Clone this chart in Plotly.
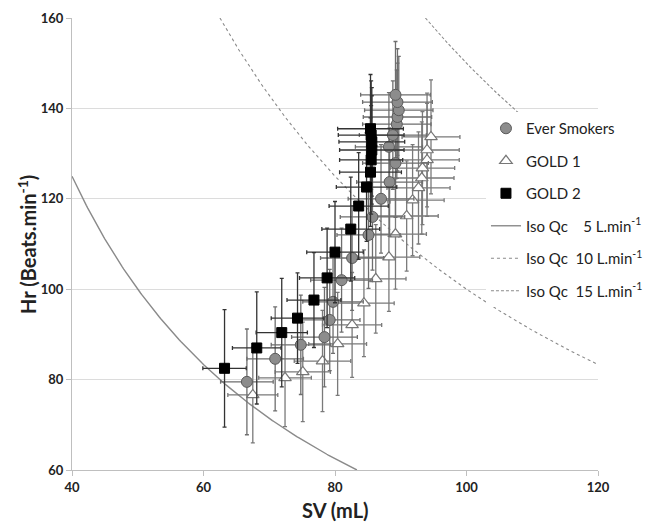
import numpy as np
import plotly.graph_objects as go

# ---- data ----
ever_sv = [66.6, 70.9, 74.8, 78.4, 79.2, 79.7, 81.0, 82.6, 85.1, 85.7, 87.0, 88.3, 89.2, 88.2, 88.8, 89.4, 89.5, 89.7, 89.5, 89.2]
ever_hr = [79.5, 84.6, 87.7, 89.4, 93.2, 97.2, 102.0, 106.9, 112.0, 116.0, 120.0, 123.7, 127.9, 131.5, 134.1, 136.5, 138.1, 139.6, 141.4, 143.0]
ever_sv_err = [4.0, 4.3, 4.5, 5.0, 4.6, 4.6, 4.7, 4.8, 4.8, 4.9, 5.0, 5.0, 5.0, 5.1, 5.1, 5.2, 5.2, 5.2, 5.3, 5.3]
ever_hr_err = [11.7, 11.5, 11.0, 11.0, 11.2, 11.4, 11.5, 11.6, 11.8, 11.8, 12.0, 12.0, 12.0, 12.0, 12.0, 12.0, 11.9, 11.9, 11.8, 11.8]

g1_sv = [67.5, 72.4, 75.1, 78.1, 80.4, 82.6, 84.4, 86.2, 88.2, 89.2, 90.9, 91.8, 92.7, 93.2, 93.3, 94.0, 94.0, 94.6]
g1_hr = [76.6, 80.4, 81.7, 84.1, 87.9, 92.1, 96.9, 102.3, 107.1, 112.2, 116.2, 119.7, 122.4, 124.6, 126.8, 128.6, 130.8, 133.7]
g1_sv_err = [3.8, 4.0, 4.2, 4.3, 4.4, 4.5, 4.6, 4.6, 4.7, 4.7, 4.8, 4.8, 4.8, 4.9, 4.9, 4.9, 4.9, 4.4]
g1_hr_err = [10.6, 10.8, 11.0, 11.2, 11.4, 11.6, 11.8, 12.0, 12.0, 12.2, 12.2, 12.3, 12.4, 12.4, 12.5, 12.5, 12.6, 12.6]

g2_sv = [63.2, 68.1, 71.9, 74.3, 76.8, 78.8, 80.0, 82.4, 83.6, 84.8, 85.4, 85.5, 85.6, 85.6, 85.5, 85.4]
g2_hr = [82.5, 87.0, 90.4, 93.6, 97.6, 102.5, 108.2, 113.3, 118.4, 122.6, 125.9, 128.6, 130.8, 132.6, 134.1, 135.5]
g2_sv_err = [3.3, 3.7, 3.9, 4.0, 4.1, 4.2, 4.3, 4.4, 4.5, 4.6, 4.7, 4.8, 4.9, 5.0, 5.0, 5.0]
g2_hr_err = [13.0, 12.4, 12.0, 10.0, 10.5, 11.0, 11.2, 11.5, 11.8, 12.0, 12.0, 12.0, 12.0, 12.0, 12.0, 12.0]

iso_q = [5, 10, 15]          # L/min
iso_sv_start = [40, 62.5, 93.75]
iso_sv_end = [83.33, 120, 120]
iso_dash = ["solid", "dot", "3px,2px"]
iso_width = [1.4, 1.1, 1.1]
iso_names = ["Iso Qc\u00a0\u00a0\u00a0\u00a05 L.min<sup>-1</sup>",
             "Iso Qc\u00a0\u00a010 L.min<sup>-1</sup>",
             "Iso Qc\u00a0\u00a015 L.min<sup>-1</sup>"]

x_title = "SV (mL)"
y_title = "Hr (Beats.min<sup>-1</sup>)"

FONT = "Lato, 'Open Sans', sans-serif"

fig = go.Figure()

# iso cardiac output lines (HR = Qc / SV)
for i, q in enumerate(iso_q):
    sv = np.linspace(iso_sv_start[i], iso_sv_end[i], 200)
    hr = q * 1000.0 / sv
    fig.add_trace(go.Scatter(
        x=sv, y=hr, mode="lines", name=iso_names[i],
        line=dict(color="#8a8a8a", width=iso_width[i], dash=iso_dash[i]),
        legendrank=4 + i, legendgroup="iso%d" % i, hoverinfo="skip"))

def err(arr, color):
    return dict(type="data", array=arr, visible=True, color=color, thickness=1.3, width=2)

fig.add_trace(go.Scatter(
    x=g1_sv, y=g1_hr, mode="markers", name="GOLD 1",
    marker=dict(symbol="triangle-up", size=11, color="white", line=dict(color="#777777", width=1.2)),
    error_x=err(g1_sv_err, "#7a7a7a"), error_y=err(g1_hr_err, "#7a7a7a"),
    legendrank=2, legendgroup="g1"))

fig.add_trace(go.Scatter(
    x=ever_sv, y=ever_hr, mode="markers", name="Ever Smokers",
    marker=dict(symbol="circle", size=11, color="#8c8c8c", line=dict(color="#5a5a5a", width=1)),
    error_x=err(ever_sv_err, "#6e6e6e"), error_y=err(ever_hr_err, "#6e6e6e"),
    legendrank=1, legendgroup="es"))

fig.add_trace(go.Scatter(
    x=g2_sv, y=g2_hr, mode="markers", name="GOLD 2",
    marker=dict(symbol="square", size=10, color="black", line=dict(color="black", width=1)),
    error_x=err(g2_sv_err, "#333333"), error_y=err(g2_hr_err, "#333333"),
    legendrank=3, legendgroup="g2"))

fig.update_layout(
    width=651, height=525,
    margin=dict(l=72, r=53, t=18, b=55, autoexpand=False),
    paper_bgcolor="white", plot_bgcolor="white",
    font=dict(family=FONT, color="#222222"),
    showlegend=True,
    legend=dict(x=0.787, y=0.792, xanchor="left", yanchor="top",
                bgcolor="white", borderwidth=0,
                font=dict(family=FONT, size=15, color="#222222"),
                tracegroupgap=10, itemwidth=30),
    xaxis=dict(range=[40, 120], dtick=20, tick0=40, showgrid=False, automargin=False,
               showline=True, linecolor="#bfbfbf", linewidth=1,
               ticks="outside", ticklen=5, tickcolor="#bfbfbf",
               tickfont=dict(size=13, weight="bold", color="#222222"),
               zeroline=False),
    yaxis=dict(range=[60, 160], dtick=20, tick0=60, showgrid=True, gridcolor="#dcdcdc", automargin=False,
               showline=True, linecolor="#bfbfbf", linewidth=1,
               ticks="outside", ticklen=5, tickcolor="#bfbfbf",
               tickfont=dict(size=13, weight="bold", color="#222222"),
               zeroline=False),
    annotations=[
        dict(text=x_title, xref="paper", yref="paper", x=0.5, y=-0.0885,
             xanchor="center", yanchor="middle", showarrow=False,
             font=dict(family=FONT, size=20, weight="bold", color="#222222")),
        dict(text=y_title, xref="paper", yref="paper", x=-0.0856, y=0.5, textangle=-90,
             xanchor="center", yanchor="middle", showarrow=False,
             font=dict(family=FONT, size=20, weight="bold", color="#222222")),
    ],
)

fig.write_html("out.html", config={"displayModeBar": False})

# remove the browser's default page margin so the figure sits at the window origin
with open("out.html", "r", encoding="utf-8") as f:
    html = f.read()
html = html.replace("<body>", '<body style="margin:0;overflow:hidden;">', 1)
with open("out.html", "w", encoding="utf-8") as f:
    f.write(html)
